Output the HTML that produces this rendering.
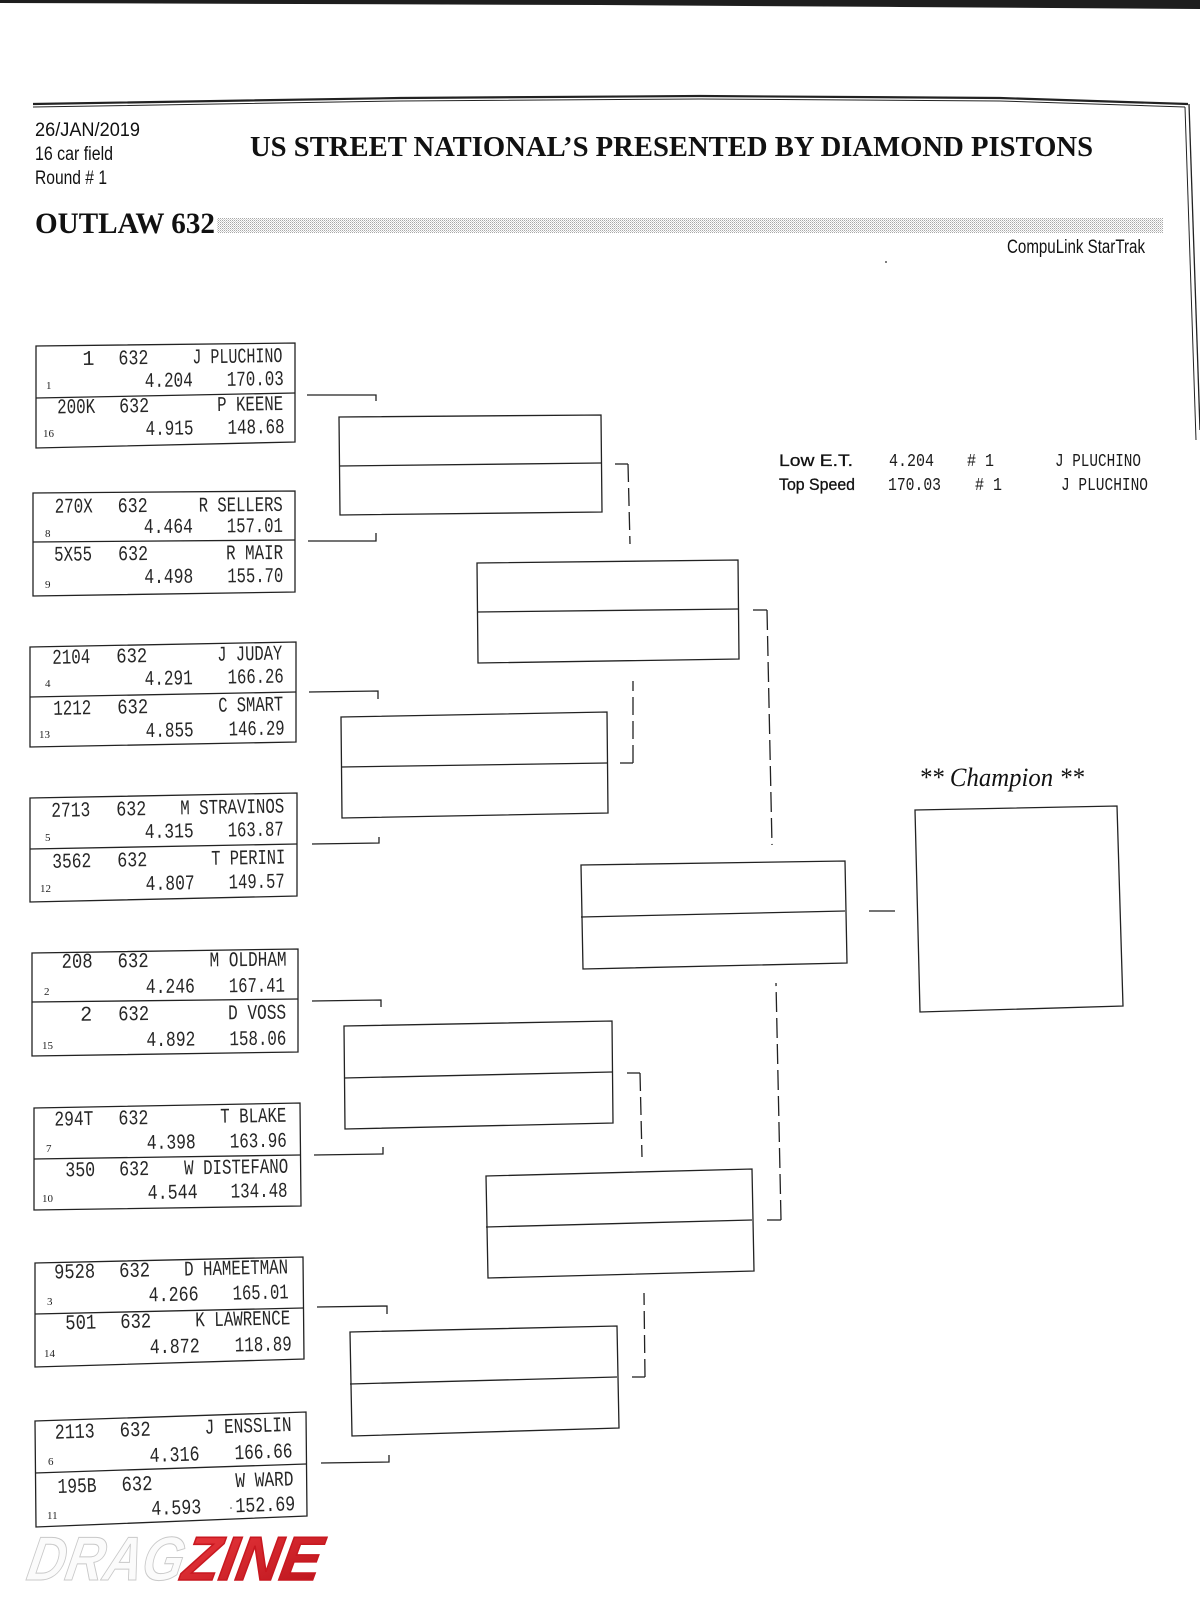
<!DOCTYPE html>
<html>
<head>
<meta charset="utf-8">
<style>
html,body{margin:0;padding:0;background:#fff;}
svg{display:block;}
.ln{stroke:#222;stroke-width:1.3;fill:none;}
.ds{stroke:#222;stroke-width:1.3;fill:none;stroke-dasharray:18 6;}
.m{font-family:"Liberation Mono","DejaVu Sans Mono",monospace;font-size:21px;fill:#262626;}
.m2{font-family:"Liberation Mono","DejaVu Sans Mono",monospace;font-size:18px;fill:#1b1b1b;}
.s{font-family:"Liberation Serif",serif;font-size:11px;fill:#222;}
.h{font-family:"Liberation Sans",sans-serif;font-size:19px;fill:#111;}
.st{font-family:"Liberation Sans",sans-serif;font-size:17px;fill:#111;stroke:#111;stroke-width:0.3;}
.tb{font-family:"Liberation Serif",serif;font-weight:bold;fill:#111;}
</style>
</head>
<body>
<svg width="1200" height="1600" viewBox="0 0 1200 1600" xmlns="http://www.w3.org/2000/svg">
<defs>
<pattern id="dots" width="2" height="2" patternUnits="userSpaceOnUse">
<rect x="0" y="0" width="1" height="1" fill="#a8a8a8"/>
<rect x="1" y="1" width="1" height="1" fill="#d0d0d0"/>
</pattern>
<linearGradient id="red" x1="0" y1="0" x2="1" y2="1">
<stop offset="0" stop-color="#ec3a3f"/>
<stop offset="1" stop-color="#b8121a"/>
</linearGradient>
</defs>
<rect width="1200" height="1600" fill="#fff"/>

<!-- top dark band -->
<polygon points="0,0 1200,0 1200,9 900,7 600,5 300,4 0,3" fill="#1e1e1e"/>

<!-- header frame lines -->
<polyline class="ln" style="stroke-width:2.2" points="33,104 400,98 700,96 1000,98 1188,104"/>
<polyline class="ln" style="stroke-width:1" points="33,107 400,101 700,99 1000,101 1185,107"/>
<line class="ln" x1="1189" y1="104" x2="1200" y2="430"/>
<line class="ln" style="stroke-width:1" x1="1185" y1="107" x2="1196" y2="440"/>

<!-- header text -->
<text class="h" x="35" y="136" textLength="105" lengthAdjust="spacingAndGlyphs">26/JAN/2019</text>
<text class="h" x="35" y="160" textLength="78" lengthAdjust="spacingAndGlyphs">16 car field</text>
<text class="h" x="35" y="184" textLength="72" lengthAdjust="spacingAndGlyphs">Round # 1</text>
<text class="tb" x="250" y="156" font-size="29" textLength="843" lengthAdjust="spacingAndGlyphs">US STREET NATIONAL’S PRESENTED BY DIAMOND PISTONS</text>
<text class="tb" x="35" y="233" font-size="30" textLength="180" lengthAdjust="spacingAndGlyphs">OUTLAW 632</text>
<rect x="217" y="218" width="946" height="15" fill="url(#dots)"/>
<text class="h" x="1007" y="253" font-size="17" textLength="138" lengthAdjust="spacingAndGlyphs">CompuLink StarTrak</text>
<circle cx="886" cy="262" r="1" fill="#555"/>

<!-- stats -->
<text class="st" x="779" y="466" textLength="74" lengthAdjust="spacingAndGlyphs">Low  E.T.</text>
<text class="st" x="779" y="490" textLength="76" lengthAdjust="spacingAndGlyphs">Top Speed</text>
<text class="m2" x="889" y="466" textLength="45" lengthAdjust="spacingAndGlyphs">4.204</text>
<text class="m2" x="967" y="466" textLength="27" lengthAdjust="spacingAndGlyphs"># 1</text>
<text class="m2" x="1055" y="466" textLength="86" lengthAdjust="spacingAndGlyphs">J PLUCHINO</text>
<text class="m2" x="888" y="490" textLength="53" lengthAdjust="spacingAndGlyphs">170.03</text>
<text class="m2" x="975" y="490" textLength="27" lengthAdjust="spacingAndGlyphs"># 1</text>
<text class="m2" x="1061" y="490" textLength="87" lengthAdjust="spacingAndGlyphs">J PLUCHINO</text>

<!-- ROUND 1 BOXES -->
<g class="ln">
<polygon points="36,346 295,343 295,442 36,448"/><line x1="36" y1="398" x2="295" y2="393"/>
<polygon points="33,493 295,491 295,592 33,596"/><line x1="33" y1="542" x2="295" y2="540"/>
<polygon points="30,647 296,642 296,742 30,747"/><line x1="30" y1="697" x2="296" y2="692"/>
<polygon points="30,798 297,793 297,896 30,902"/><line x1="30" y1="849" x2="297" y2="844"/>
<polygon points="32,953 298,949 298,1052 32,1056"/><line x1="32" y1="1002" x2="298" y2="999"/>
<polygon points="34,1108 300,1103 301,1206 34,1210"/><line x1="34" y1="1159" x2="300" y2="1155"/>
<polygon points="35,1263 303,1257 304,1359 35,1367"/><line x1="35" y1="1314" x2="303" y2="1308"/>
<polygon points="35,1421 306,1412 307,1516 36,1527"/><line x1="35" y1="1473" x2="306" y2="1464"/>
</g>

<!-- R1 connectors -->
<g class="ln">
<polyline points="307,395 376,395 376,401"/>
<polyline points="308,541 376,541 376,533"/>
<polyline points="309,692 378,691 378,699"/>
<polyline points="312,844 379,843 379,837"/>
<polyline points="312,1001 381,1000 381,1007"/>
<polyline points="314,1155 383,1154 383,1147"/>
<polyline points="317,1307 387,1306 387,1314"/>
<polyline points="321,1463 389,1462 389,1455"/>
</g>

<!-- ROUND 2 BOXES -->
<g class="ln">
<polygon points="339,417 601,415 602,512 340,515"/><line x1="339" y1="466" x2="601" y2="463"/>
<polygon points="341,717 607,712 608,813 342,818"/><line x1="341" y1="767" x2="607" y2="763"/>
<polygon points="344,1026 612,1021 613,1123 345,1129"/><line x1="344" y1="1078" x2="612" y2="1072"/>
<polygon points="350,1332 617,1326 619,1428 352,1436"/><line x1="350" y1="1384" x2="617" y2="1377"/>
</g>
<!-- R2 connectors -->
<line class="ln" x1="615" y1="464" x2="628" y2="464"/>
<line class="ds" x1="628" y1="464" x2="630" y2="544"/>
<line class="ln" x1="620" y1="763" x2="633" y2="763"/>
<line class="ds" x1="633" y1="763" x2="633" y2="681"/>
<line class="ln" x1="627" y1="1073" x2="640" y2="1073"/>
<line class="ds" x1="640" y1="1073" x2="642" y2="1157"/>
<line class="ln" x1="632" y1="1377" x2="645" y2="1377"/>
<line class="ds" x1="645" y1="1377" x2="644" y2="1293"/>

<!-- ROUND 3 BOXES -->
<g class="ln">
<polygon points="477,563 738,560 739,659 478,663"/><line x1="477" y1="612" x2="738" y2="609"/>
<polygon points="486,1176 752,1169 754,1271 488,1278"/><line x1="486" y1="1227" x2="752" y2="1220"/>
</g>
<line class="ln" x1="753" y1="610" x2="767" y2="610"/>
<line class="ds" style="stroke-dasharray:20 6" x1="767" y1="610" x2="772" y2="845"/>
<line class="ln" x1="767" y1="1220" x2="781" y2="1220"/>
<line class="ds" style="stroke-dasharray:20 6" x1="781" y1="1220" x2="776" y2="983"/>

<!-- FINAL -->
<g class="ln">
<polygon points="581,865 845,861 847,963 583,969"/><line x1="581" y1="917" x2="845" y2="911"/>
<line x1="869" y1="911" x2="895" y2="911"/>
<polygon points="915,810 1117,806 1123,1006 920,1012"/>
</g>
<text x="919" y="786" font-family="Liberation Serif, serif" font-style="italic" font-size="26" fill="#111" textLength="165" lengthAdjust="spacingAndGlyphs">** Champion **</text>

<!-- BOX A texts -->
<g transform="rotate(-0.86 150 395)">
<text class="m" x="83" y="364" textLength="12" lengthAdjust="spacingAndGlyphs">1</text>
<text class="m" x="119" y="364" textLength="30" lengthAdjust="spacingAndGlyphs">632</text>
<text class="m" x="193" y="364" textLength="90" lengthAdjust="spacingAndGlyphs">J PLUCHINO</text>
<text class="m" x="145" y="387" textLength="48" lengthAdjust="spacingAndGlyphs">4.204</text>
<text class="m" x="227" y="387" textLength="57" lengthAdjust="spacingAndGlyphs">170.03</text>
<text class="m" x="57" y="412" textLength="38" lengthAdjust="spacingAndGlyphs">200K</text>
<text class="m" x="119" y="412" textLength="30" lengthAdjust="spacingAndGlyphs">632</text>
<text class="m" x="217" y="412" textLength="66" lengthAdjust="spacingAndGlyphs">P KEENE</text>
<text class="m" x="145" y="435" textLength="48" lengthAdjust="spacingAndGlyphs">4.915</text>
<text class="m" x="227" y="435" textLength="57" lengthAdjust="spacingAndGlyphs">148.68</text>
</g>
<text class="s" x="46" y="389">1</text>
<text class="s" x="43" y="437">16</text>

<!-- BOX B -->
<g transform="rotate(-0.46 150 542)">
<text class="m" x="55" y="512" textLength="38" lengthAdjust="spacingAndGlyphs">270X</text>
<text class="m" x="118" y="512" textLength="30" lengthAdjust="spacingAndGlyphs">632</text>
<text class="m" x="199" y="512" textLength="84" lengthAdjust="spacingAndGlyphs">R SELLERS</text>
<text class="m" x="144" y="533" textLength="49" lengthAdjust="spacingAndGlyphs">4.464</text>
<text class="m" x="227" y="533" textLength="56" lengthAdjust="spacingAndGlyphs">157.01</text>
<text class="m" x="54" y="560" textLength="38" lengthAdjust="spacingAndGlyphs">5X55</text>
<text class="m" x="118" y="560" textLength="30" lengthAdjust="spacingAndGlyphs">632</text>
<text class="m" x="226" y="560" textLength="57" lengthAdjust="spacingAndGlyphs">R MAIR</text>
<text class="m" x="144" y="583" textLength="49" lengthAdjust="spacingAndGlyphs">4.498</text>
<text class="m" x="227" y="583" textLength="56" lengthAdjust="spacingAndGlyphs">155.70</text>
</g>
<text class="s" x="45" y="537">8</text>
<text class="s" x="45" y="588">9</text>

<!-- BOX C -->
<g transform="rotate(-1.08 150 695)">
<text class="m" x="53" y="662" textLength="38" lengthAdjust="spacingAndGlyphs">2104</text>
<text class="m" x="117" y="662" textLength="31" lengthAdjust="spacingAndGlyphs">632</text>
<text class="m" x="218" y="662" textLength="65" lengthAdjust="spacingAndGlyphs">J JUDAY</text>
<text class="m" x="145" y="685" textLength="48" lengthAdjust="spacingAndGlyphs">4.291</text>
<text class="m" x="228" y="685" textLength="56" lengthAdjust="spacingAndGlyphs">166.26</text>
<text class="m" x="53" y="713" textLength="38" lengthAdjust="spacingAndGlyphs">1212</text>
<text class="m" x="117" y="713" textLength="31" lengthAdjust="spacingAndGlyphs">632</text>
<text class="m" x="218" y="713" textLength="65" lengthAdjust="spacingAndGlyphs">C SMART</text>
<text class="m" x="145" y="737" textLength="48" lengthAdjust="spacingAndGlyphs">4.855</text>
<text class="m" x="228" y="737" textLength="56" lengthAdjust="spacingAndGlyphs">146.29</text>
</g>
<text class="s" x="45" y="687">4</text>
<text class="s" x="39" y="738">13</text>

<!-- BOX D -->
<g transform="rotate(-1.07 150 847)">
<text class="m" x="52" y="815" textLength="39" lengthAdjust="spacingAndGlyphs">2713</text>
<text class="m" x="117" y="815" textLength="30" lengthAdjust="spacingAndGlyphs">632</text>
<text class="m" x="181" y="815" textLength="104" lengthAdjust="spacingAndGlyphs">M STRAVINOS</text>
<text class="m" x="145" y="838" textLength="49" lengthAdjust="spacingAndGlyphs">4.315</text>
<text class="m" x="228" y="838" textLength="56" lengthAdjust="spacingAndGlyphs">163.87</text>
<text class="m" x="52" y="866" textLength="39" lengthAdjust="spacingAndGlyphs">3562</text>
<text class="m" x="117" y="866" textLength="30" lengthAdjust="spacingAndGlyphs">632</text>
<text class="m" x="211" y="866" textLength="74" lengthAdjust="spacingAndGlyphs">T PERINI</text>
<text class="m" x="145" y="890" textLength="49" lengthAdjust="spacingAndGlyphs">4.807</text>
<text class="m" x="228" y="890" textLength="56" lengthAdjust="spacingAndGlyphs">149.57</text>
</g>
<text class="s" x="45" y="841">5</text>
<text class="s" x="40" y="892">12</text>

<!-- BOX E -->
<g transform="rotate(-0.57 150 1001)">
<text class="m" x="62" y="967" textLength="31" lengthAdjust="spacingAndGlyphs">208</text>
<text class="m" x="118" y="967" textLength="31" lengthAdjust="spacingAndGlyphs">632</text>
<text class="m" x="210" y="967" textLength="77" lengthAdjust="spacingAndGlyphs">M OLDHAM</text>
<text class="m" x="146" y="993" textLength="49" lengthAdjust="spacingAndGlyphs">4.246</text>
<text class="m" x="229" y="993" textLength="56" lengthAdjust="spacingAndGlyphs">167.41</text>
<text class="m" x="80" y="1020" textLength="12" lengthAdjust="spacingAndGlyphs">2</text>
<text class="m" x="118" y="1020" textLength="31" lengthAdjust="spacingAndGlyphs">632</text>
<text class="m" x="228" y="1020" textLength="58" lengthAdjust="spacingAndGlyphs">D VOSS</text>
<text class="m" x="146" y="1046" textLength="49" lengthAdjust="spacingAndGlyphs">4.892</text>
<text class="m" x="229" y="1046" textLength="57" lengthAdjust="spacingAndGlyphs">158.06</text>
</g>
<text class="s" x="44" y="995">2</text>
<text class="s" x="42" y="1049">15</text>

<!-- BOX F -->
<g transform="rotate(-0.97 150 1157)">
<text class="m" x="55" y="1124" textLength="39" lengthAdjust="spacingAndGlyphs">294T</text>
<text class="m" x="119" y="1124" textLength="30" lengthAdjust="spacingAndGlyphs">632</text>
<text class="m" x="221" y="1124" textLength="66" lengthAdjust="spacingAndGlyphs">T BLAKE</text>
<text class="m" x="147" y="1149" textLength="49" lengthAdjust="spacingAndGlyphs">4.398</text>
<text class="m" x="230" y="1149" textLength="57" lengthAdjust="spacingAndGlyphs">163.96</text>
<text class="m" x="65" y="1175" textLength="30" lengthAdjust="spacingAndGlyphs">350</text>
<text class="m" x="119" y="1175" textLength="30" lengthAdjust="spacingAndGlyphs">632</text>
<text class="m" x="184" y="1175" textLength="104" lengthAdjust="spacingAndGlyphs">W DISTEFANO</text>
<text class="m" x="147" y="1199" textLength="50" lengthAdjust="spacingAndGlyphs">4.544</text>
<text class="m" x="230" y="1199" textLength="57" lengthAdjust="spacingAndGlyphs">134.48</text>
</g>
<text class="s" x="46" y="1152">7</text>
<text class="s" x="42" y="1202">10</text>

<!-- BOX G -->
<g transform="rotate(-1.26 150 1311)">
<text class="m" x="55" y="1276.4" textLength="41" lengthAdjust="spacingAndGlyphs">9528</text>
<text class="m" x="120" y="1276.4" textLength="31" lengthAdjust="spacingAndGlyphs">632</text>
<text class="m" x="185" y="1276.4" textLength="104" lengthAdjust="spacingAndGlyphs">D HAMEETMAN</text>
<text class="m" x="149" y="1301.4" textLength="50" lengthAdjust="spacingAndGlyphs">4.266</text>
<text class="m" x="233" y="1301.4" textLength="56" lengthAdjust="spacingAndGlyphs">165.01</text>
<text class="m" x="65" y="1327.4" textLength="31" lengthAdjust="spacingAndGlyphs">501</text>
<text class="m" x="120" y="1327.4" textLength="31" lengthAdjust="spacingAndGlyphs">632</text>
<text class="m" x="195" y="1327.4" textLength="95" lengthAdjust="spacingAndGlyphs">K LAWRENCE</text>
<text class="m" x="149" y="1353.4" textLength="50" lengthAdjust="spacingAndGlyphs">4.872</text>
<text class="m" x="234" y="1353.4" textLength="57" lengthAdjust="spacingAndGlyphs">118.89</text>
</g>
<text class="s" x="47" y="1305">3</text>
<text class="s" x="44" y="1357">14</text>

<!-- BOX H -->
<g transform="rotate(-1.89 150 1469)">
<text class="m" x="56" y="1435.6" textLength="40" lengthAdjust="spacingAndGlyphs">2113</text>
<text class="m" x="121" y="1435.6" textLength="31" lengthAdjust="spacingAndGlyphs">632</text>
<text class="m" x="206" y="1435.6" textLength="87" lengthAdjust="spacingAndGlyphs">J ENSSLIN</text>
<text class="m" x="150" y="1462" textLength="50" lengthAdjust="spacingAndGlyphs">4.316</text>
<text class="m" x="235" y="1462" textLength="58" lengthAdjust="spacingAndGlyphs">166.66</text>
<text class="m" x="57" y="1490" textLength="39" lengthAdjust="spacingAndGlyphs">195B</text>
<text class="m" x="121" y="1490" textLength="31" lengthAdjust="spacingAndGlyphs">632</text>
<text class="m" x="235" y="1490" textLength="58" lengthAdjust="spacingAndGlyphs">W WARD</text>
<text class="m" x="150" y="1515" textLength="50" lengthAdjust="spacingAndGlyphs">4.593</text>
<text class="m" x="234" y="1515" textLength="60" lengthAdjust="spacingAndGlyphs">152.69</text>
</g>
<circle cx="231" cy="1508" r="0.8" fill="#444"/>
<text class="s" x="48" y="1465">6</text>
<text class="s" x="47" y="1519">11</text>

<!-- LOGO -->
<g transform="translate(0,1580) skewX(-10)">
<text x="25" y="0" font-family="Liberation Sans, sans-serif" font-weight="bold" font-style="italic" font-size="62" fill="#fbfbfb" stroke="#c9c9c9" stroke-width="1" textLength="156" lengthAdjust="spacingAndGlyphs">DRAG</text>
<text x="180" y="0" font-family="Liberation Sans, sans-serif" font-weight="bold" font-style="italic" font-size="62" fill="url(#red)" stroke="#c81820" stroke-width="1.6" textLength="138" lengthAdjust="spacingAndGlyphs">ZINE</text>
</g>
</svg>
</body>
</html>
